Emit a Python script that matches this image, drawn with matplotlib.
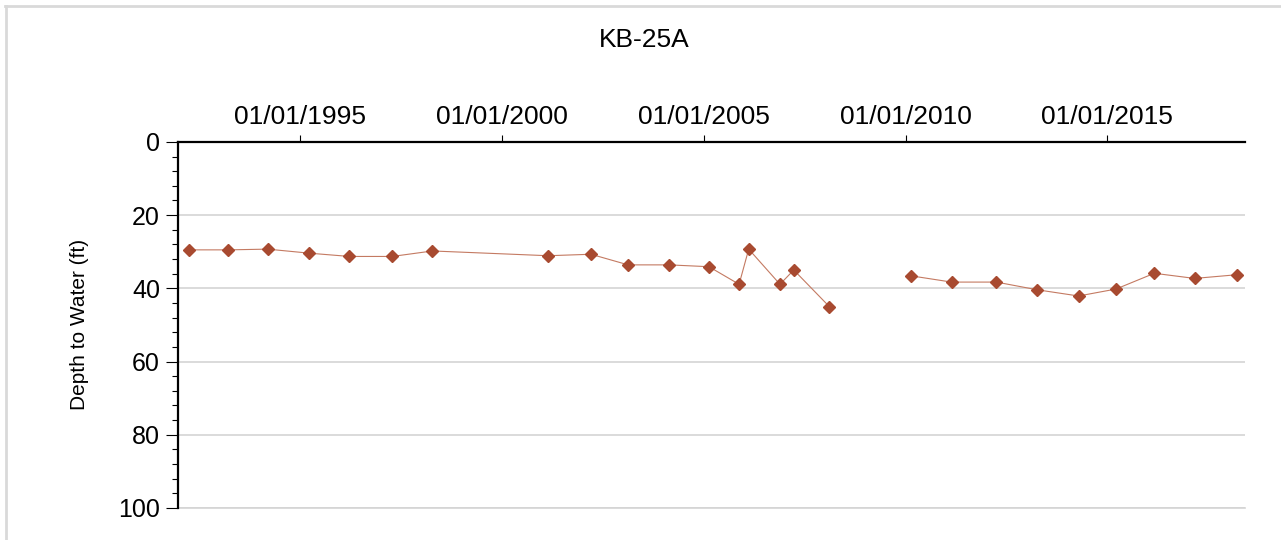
import numpy as np
import pandas as pd
import matplotlib
matplotlib.use("Agg")
import matplotlib.pyplot as plt
import matplotlib.dates as mdates
from matplotlib.lines import Line2D
from matplotlib.ticker import MultipleLocator

# measured depth to water, ft (gap 2008 -> 2010 is not joined in the original)
dates = [
    "1992-03-25", "1993-03-20", "1994-03-10", "1995-03-20", "1996-03-20",
    "1997-04-10", "1998-04-10", "2001-02-20", "2002-03-15", "2003-02-15",
    "2004-02-20", "2005-02-15", "2005-11-15", "2006-02-10", "2006-11-20",
    "2007-03-25", "2008-02-10", "2009-01-01", "2010-02-20", "2011-02-20",
    "2012-04-01", "2013-04-05", "2014-04-15", "2015-03-20", "2016-03-01",
    "2017-03-01", "2018-03-15",
]
depth = [
    29.5, 29.5, 29.3, 30.4, 31.3,
    31.3, 29.8, 31.1, 30.7, 33.6,
    33.6, 34.1, 38.9, 29.3, 38.9,
    35.0, 45.0, np.nan, 36.6, 38.3,
    38.3, 40.4, 42.1, 40.2, 35.9,
    37.3, 36.3,
]
well = "KB-25A"

plt.rcParams["font.family"] = ["Liberation Sans", "DejaVu Sans"]

fig = plt.figure(figsize=(12.81, 5.4), dpi=100)
ax = fig.add_axes([0.139, 0.0593, 0.833, 0.678])

x = pd.to_datetime(dates)
ax.plot(x, depth, color="#c47a62", linewidth=0.8, marker="D",
        markersize=6, markerfacecolor="#a84a30", markeredgecolor="#a84a30",
        zorder=3)

ax.set_ylim(100, 0)
ax.set_xlim(pd.Timestamp("1991-12-20"), pd.Timestamp("2018-06-01"))
ax.yaxis.set_major_locator(MultipleLocator(20))
ax.yaxis.set_minor_locator(MultipleLocator(4))
ax.xaxis.set_major_locator(mdates.YearLocator(5))
ax.xaxis.set_major_formatter(mdates.DateFormatter("%m/%d/%Y"))
ax.xaxis.tick_top()

ax.grid(axis="y", color="#d4d4d4", linewidth=1.2)
ax.axhline(100, color="#d4d4d4", linewidth=1.2, clip_on=False, zorder=0)
ax.set_axisbelow(True)
ax.spines["bottom"].set_visible(False)
ax.spines["right"].set_visible(False)
ax.spines["top"].set_linewidth(1.6)
ax.spines["left"].set_linewidth(1.6)

ax.tick_params(axis="y", which="major", length=9, width=0.8, labelsize=18, pad=4)
ax.tick_params(axis="y", which="minor", length=4, width=0.8)
ax.tick_params(axis="x", which="major", length=5, width=0.8, labelsize=19, pad=4)

ax.set_ylabel("Depth to Water (ft)", fontsize=15, labelpad=21)
fig.text(0.503, 1 - 40 / 540, well, ha="center", va="center", fontsize=19)

# light border of the original panel
fig.add_artist(Line2D([5 / 1281, 1], [1 - 6 / 540, 1 - 6 / 540],
                      transform=fig.transFigure, color="#d9d9d9", linewidth=2))
fig.add_artist(Line2D([6 / 1281, 6 / 1281], [0, 1 - 6 / 540],
                      transform=fig.transFigure, color="#d9d9d9", linewidth=2))

fig.savefig("out.png", dpi=100)
